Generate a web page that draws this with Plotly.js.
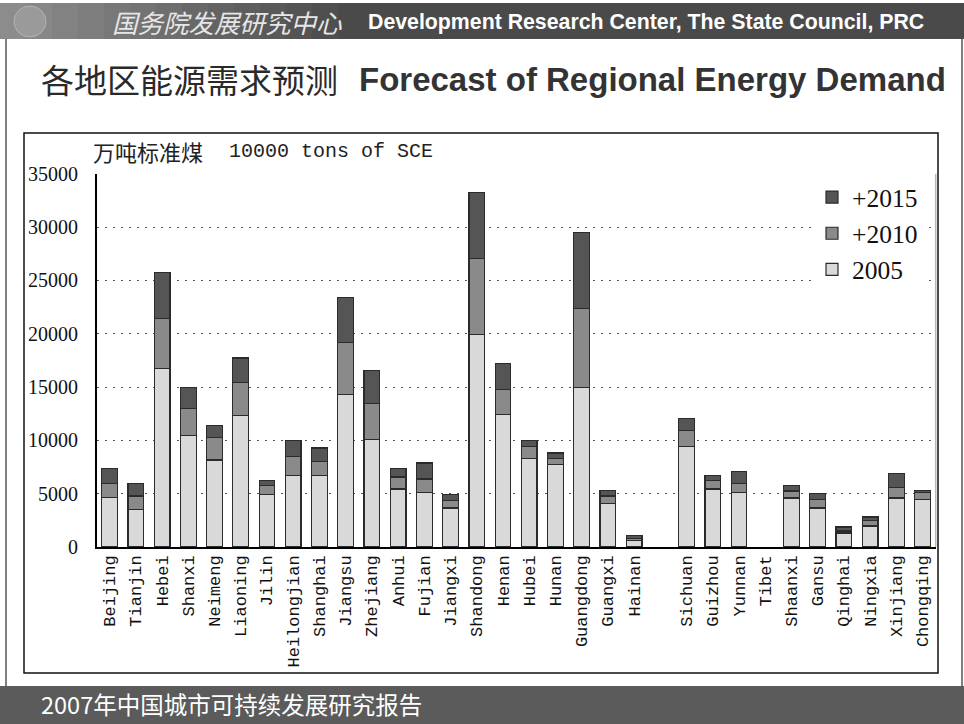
<!DOCTYPE html>
<html>
<head>
<meta charset="utf-8">
<script src="https://cdn.plot.ly/plotly-3.0.1.min.js"></script>
<style>
  html, body { margin: 0; padding: 0; background: #ffffff; }
  #chart { width: 964px; height: 724px; }
</style>
</head>
<body>
<div id="chart"></div>
<script>
// Regional energy demand, 10000 tons of standard coal equivalent.
// The empty entry leaves a gap between the eastern/central and western groups.
const regions = ["Beijing", "Tianjin", "Hebei", "Shanxi", "Neimeng", "Liaoning", "Jilin",
  "Heilongjian", "Shanghai", "Jiangsu", "Zhejiang", "Anhui", "Fujian", "Jiangxi",
  "Shandong", "Henan", "Hubei", "Hunan", "Guangdong", "Guangxi", "Hainan", "",
  "Sichuan", "Guizhou", "Yunnan", "Tibet", "Shaanxi", "Gansu", "Qinghai", "Ningxia",
  "Xinjiang", "Chongqing"];

// 2005 demand
const demand2005 = [4630, 3500, 16730, 10450, 8160, 12350, 4940, 6690, 6690, 14290, 10100,
  5440, 5100, 3660, 19920, 12390, 8320, 7730, 14950, 4100, 590, null,
  9450, 5440, 5130, 0, 4600, 3660, 1310, 1970, 4600, 4440];

// growth from 2005 to 2010
const add2010 = [1310, 1280, 4690, 2560, 2100, 3070, 810, 1790, 1290, 4850, 3380,
  1130, 1280, 690, 7130, 2410, 1130, 590, 7410, 690, 220, null,
  1470, 780, 810, 0, 660, 780, 190, 530, 970, 660];

// growth from 2010 to 2015
const add2015 = [1410, 1160, 4350, 1940, 1130, 2310, 470, 1470, 1310, 4220, 3100,
  780, 1500, 590, 6190, 2410, 530, 500, 7130, 500, 250, null,
  1160, 500, 1130, 0, 500, 560, 380, 310, 1310, 190];

const seriesNames = ["2005", "+2010", "+2015"];
const yTicks = [0, 5000, 10000, 15000, 20000, 25000, 30000, 35000];

const W = 964, H = 724;
const px = v => v / W;          // pixel -> paper (x)
const py = v => 1 - v / H;      // pixel -> paper (y)

const slots = regions.map((_, i) => i);

const traces = [
  { name: seriesNames[0], y: demand2005, color: "#d9d9d9" },
  { name: seriesNames[1], y: add2010, color: "#8a8a8a" },
  { name: seriesNames[2], y: add2015, color: "#555555" }
].map(s => ({
  type: "bar",
  x: slots,
  y: s.y,
  name: s.name,
  marker: {
    color: s.color,
    // no outline on empty segments so zero values leave no mark
    line: { color: "#2b2b2b", width: s.y.map(v => (v ? 1.2 : 0)) }
  },
  hoverinfo: "skip"
}));

const cjk = '"Noto Sans CJK SC", "Noto Sans", sans-serif';
const shapes = [];
const annotations = [];

// header band with a light-to-dark fade on the left
shapes.push({ type: "rect", xref: "paper", yref: "paper", x0: 0, x1: 1, y0: py(39), y1: py(3),
  fillcolor: "#4a4a4a", line: { width: 0 }, layer: "below" });
const fadeSteps = 14;
for (let i = 0; i < fadeSteps; i++) {
  const t = i / (fadeSteps - 1);
  const g = Math.round(140 - (140 - 74) * t);
  const hex = g.toString(16).padStart(2, "0");
  shapes.push({ type: "rect", xref: "paper", yref: "paper",
    x0: px(i * 26), x1: px(i * 26 + 27), y0: py(39), y1: py(3),
    fillcolor: "#" + hex + hex + hex, line: { width: 0 }, layer: "below" });
}
// emblem
shapes.push({ type: "circle", xref: "paper", yref: "paper",
  x0: px(14), x1: px(46), y0: py(37), y1: py(6),
  fillcolor: "#9a9a9a", line: { color: "#b5b5b5", width: 1 }, layer: "below" });

// slide side borders
shapes.push({ type: "line", xref: "paper", yref: "paper", x0: px(6), x1: px(6), y0: py(686), y1: py(39),
  line: { color: "#555555", width: 1.5 } });
shapes.push({ type: "line", xref: "paper", yref: "paper", x0: px(962), x1: px(962), y0: py(686), y1: py(39),
  line: { color: "#555555", width: 1.5 } });

// chart frame
shapes.push({ type: "rect", xref: "paper", yref: "paper", x0: px(24), x1: px(938), y0: py(673), y1: py(133),
  fillcolor: "rgba(0,0,0,0)", line: { color: "#111111", width: 1.5 } });

// right edge of the plotting area
shapes.push({ type: "line", xref: "x domain", yref: "y domain", x0: 1, x1: 1, y0: 0, y1: 1,
  line: { color: "#b8b8b8", width: 1.5 } });

// footer band
shapes.push({ type: "rect", xref: "paper", yref: "paper", x0: 0, x1: 1, y0: 0, y1: py(686),
  fillcolor: "#5b5b5b", line: { width: 0 }, layer: "below" });

// header texts
annotations.push({ xref: "paper", yref: "paper", x: px(110), y: py(21), xanchor: "left", yanchor: "middle",
  text: "<i>国务院发展研究中心</i>", showarrow: false,
  font: { family: cjk, size: 25.5, color: "#e6e6e6" } });
annotations.push({ xref: "paper", yref: "paper", x: px(366), y: py(22), xanchor: "left", yanchor: "middle",
  text: "<b>Development Research Center, The State Council, PRC</b>", showarrow: false,
  font: { family: '"Liberation Sans", Arial, sans-serif', size: 21.3, color: "#ffffff" } });

// slide title
annotations.push({ xref: "paper", yref: "paper", x: px(39), y: py(79), xanchor: "left", yanchor: "middle",
  text: "各地区能源需求预测", showarrow: false,
  font: { family: cjk, size: 33, color: "#2a2a2a" } });
annotations.push({ xref: "paper", yref: "paper", x: px(357), y: py(80), xanchor: "left", yanchor: "middle",
  text: "<b>Forecast of Regional Energy Demand</b>", showarrow: false,
  font: { family: '"Liberation Sans", Arial, sans-serif', size: 33, color: "#333333" } });

// unit label
annotations.push({ xref: "paper", yref: "paper", x: px(91), y: py(151), xanchor: "left", yanchor: "middle",
  text: "万吨标准煤", showarrow: false,
  font: { family: cjk, size: 22, color: "#222222" } });
annotations.push({ xref: "paper", yref: "paper", x: px(227), y: py(151), xanchor: "left", yanchor: "middle",
  text: "10000 tons of SCE", showarrow: false,
  font: { family: '"Liberation Mono", "DejaVu Sans Mono", monospace', size: 20, color: "#222222" } });

// footer text
annotations.push({ xref: "paper", yref: "paper", x: px(39), y: py(704), xanchor: "left", yanchor: "middle",
  text: "2007年中国城市可持续发展研究报告", showarrow: false,
  font: { family: cjk, size: 23.5, color: "#ffffff" } });

const layout = {
  width: W,
  height: H,
  margin: { l: 0, r: 0, t: 0, b: 0 },
  paper_bgcolor: "#ffffff",
  plot_bgcolor: "#ffffff",
  barmode: "stack",
  bargap: 0.4,
  showlegend: true,
  legend: {
    x: px(812), y: py(174), xanchor: "left", yanchor: "top",
    bgcolor: "#ffffff", borderwidth: 0,
    traceorder: "reversed",
    font: { family: '"Liberation Serif", "Times New Roman", serif', size: 25.5, color: "#111111" },
    tracegroupgap: 0
  },
  xaxis: {
    domain: [px(96.5), px(935.7)],
    range: [-0.5, regions.length - 0.5],
    tickmode: "array",
    tickvals: slots,
    ticktext: regions,
    tickangle: -90,
    ticks: "",
    showgrid: false,
    zeroline: false,
    showline: true,
    linecolor: "#000000",
    linewidth: 1.5,
    tickfont: { family: '"Liberation Mono", "DejaVu Sans Mono", monospace', size: 17, color: "#111111" },
    fixedrange: true
  },
  yaxis: {
    domain: [py(547), py(173.7)],
    range: [0, 35000],
    tickmode: "array",
    tickvals: yTicks,
    ticktext: yTicks.map(String),
    ticks: "",
    ticklabelstandoff: 13,
    showgrid: true,
    gridcolor: "#555555",
    gridwidth: 1,
    griddash: "2px,6px",
    zeroline: false,
    showline: true,
    linecolor: "#000000",
    linewidth: 1.5,
    tickfont: { family: '"Liberation Serif", "Times New Roman", serif', size: 20, color: "#111111" },
    fixedrange: true
  },
  shapes: shapes,
  annotations: annotations
};

Plotly.newPlot("chart", traces, layout, { displayModeBar: false, staticPlot: true });
</script>
</body>
</html>
